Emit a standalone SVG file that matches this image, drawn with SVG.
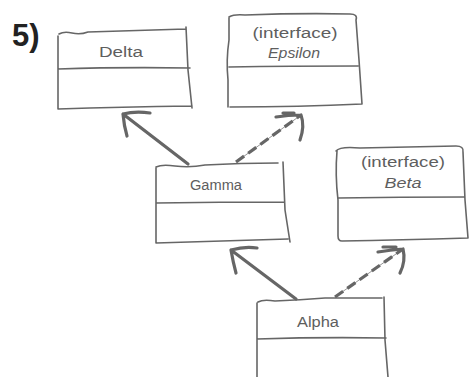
<svg xmlns="http://www.w3.org/2000/svg" width="470" height="377" viewBox="0 0 470 377">
<style>
.box{fill:none;stroke:#666;stroke-width:1.6;stroke-linecap:round;stroke-linejoin:round}
.t{font-family:"Liberation Sans",Arial,sans-serif;font-size:14px;fill:#5e5e5e;text-anchor:middle}
.it{font-style:italic}
.solid{fill:none;stroke:#666;stroke-width:3.2;stroke-linecap:round;stroke-linejoin:round}
.thin{fill:none;stroke:#777;stroke-width:0.8}
.dash{fill:none;stroke:#666;stroke-width:3.2;stroke-dasharray:10 5}
</style>
<rect width="470" height="377" fill="#fff"/>
<text x="12" y="46" font-family="Liberation Sans,Arial,sans-serif" font-weight="bold" font-size="31" fill="#222">5)</text>
<g id="delta">
<path class="box" d="M59,34 Q64,31 72,33 Q80,35 88,32 Q120,31 186,29 M186,27 L188,70 L192,108 M58,36 L58,109 Q120,107 192,106 M58,69 Q120,67 190,68"/>
<text class="t" x="121" y="57" textLength="44" lengthAdjust="spacingAndGlyphs">Delta</text>
</g>
<g id="epsilon">
<path class="box" d="M229,17 Q234,14 245,15 Q300,13 350,14 Q358,14 356,20 L359,60 L362,104 Q300,107 230,107 M229,18 L229,40 Q226,60 228,80 L228,107 M229,67 Q290,66 358,66"/>
<text class="t" x="295" y="38" textLength="85" lengthAdjust="spacingAndGlyphs">(interface)</text>
<text class="t it" x="294" y="58" textLength="52" lengthAdjust="spacingAndGlyphs">Epsilon</text>
</g>
<g id="gamma">
<path class="box" d="M156,167 Q162,164 175,166 Q190,168 205,165 Q240,163 278,163 M283,162 L285,210 L290,242 M156,168 L156,243 Q220,241 288,239 M156,203 Q220,202 284,202"/>
<text class="t" x="216" y="190" textLength="52" lengthAdjust="spacingAndGlyphs">Gamma</text>
</g>
<g id="beta">
<path class="box" d="M336,151 Q340,146 360,148 Q400,147 456,146 Q464,146 463,152 L465,200 L468,238 Q400,240 342,241 Q338,241 338,236 L338,200 Q335,175 337,151 M338,198 Q400,197 464,197"/>
<text class="t" x="403" y="167" textLength="84" lengthAdjust="spacingAndGlyphs">(interface)</text>
<text class="t it" x="403" y="188" textLength="37" lengthAdjust="spacingAndGlyphs">Beta</text>
</g>
<g id="alpha">
<path class="box" d="M258,302 Q263,299 275,301 Q300,300 325,298 Q355,298 382,298 M384,297 L385,340 L388,377 M257,303 L257,377 M257,339 Q320,337 386,338"/>
<text class="t" x="318" y="327" textLength="42" lengthAdjust="spacingAndGlyphs">Alpha</text>
</g>
<g id="connectors">
<path class="solid" d="M188,164 L123,114 M123,114 Q135,111 150,113 M123,114 Q124,126 127,136"/>
<path class="thin" d="M236,162 L301,115"/>
<path class="dash" d="M236,162 L301,115"/>
<path class="solid" d="M301,115 Q288,115 276,117 M301,115 Q305,126 300,140 M283,113 L294,113"/>
<path class="solid" d="M296,299 L231,250 M231,250 Q245,246 257,248 M231,250 Q233,262 236,273"/>
<path class="thin" d="M335,297 L403,249"/>
<path class="dash" d="M335,297 L403,249"/>
<path class="solid" d="M403,249 Q390,250 378,252 M403,249 Q406,261 400,273 M383,247 L396,247"/>
</g>
</svg>
